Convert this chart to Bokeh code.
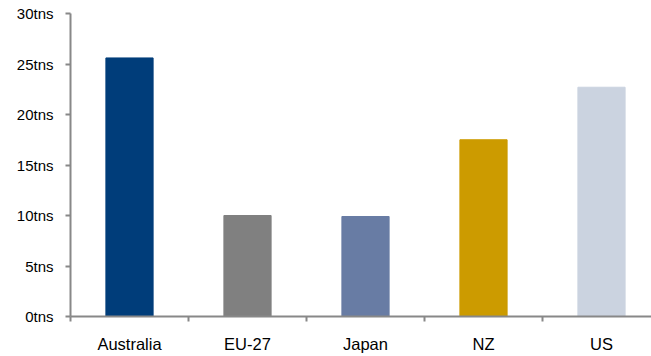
from bokeh.plotting import figure
from bokeh.models import FixedTicker, ColumnDataSource, Range1d
from bokeh.embed import file_html
from bokeh.resources import INLINE

categories = ["Australia", "EU-27", "Japan", "NZ", "US"]
values = [25.6, 10.0, 9.9, 17.5, 22.7]
colors = ["#003D7A", "#808080", "#687CA4", "#CC9B00", "#CBD3E0"]
y_ticks = [0, 5, 10, 15, 20, 25, 30]
y_tick_labels = ["0tns", "5tns", "10tns", "15tns", "20tns", "25tns", "30tns"]

xpos = [i + 0.5 for i in range(len(categories))]
src = ColumnDataSource(dict(x=xpos, top=values, color=colors))

W, H = 651, 356
p = figure(width=W, height=H, output_backend="svg", toolbar_location=None,
           x_range=Range1d(0, (W - 70) / 118.0), y_range=Range1d(0, 30),
           min_border_left=70, min_border_right=0, min_border_top=13, min_border_bottom=40)
p.vbar(x="x", top="top", width=0.4, color="color", source=src)

p.outline_line_color = None
p.xgrid.visible = False
p.ygrid.visible = False

axis_color = "#888888"
p.yaxis.ticker = FixedTicker(ticks=y_ticks)
p.yaxis.major_label_overrides = {t: l for t, l in zip(y_ticks, y_tick_labels)}
p.yaxis.minor_tick_line_color = None
p.yaxis.major_tick_in = 0
p.yaxis.major_tick_out = 5
p.yaxis.major_label_standoff = 12
p.yaxis.major_tick_line_color = axis_color
p.yaxis.major_label_text_font_size = "15px"

p.xaxis.ticker = FixedTicker(ticks=xpos, minor_ticks=list(range(len(categories) + 1)))
p.xaxis.major_label_overrides = {x: c for x, c in zip(xpos, categories)}
p.xaxis.major_tick_line_color = None
p.xaxis.major_tick_in = 0
p.xaxis.major_tick_out = 5
p.xaxis.minor_tick_in = 0
p.xaxis.minor_tick_out = 5
p.xaxis.minor_tick_line_color = axis_color
p.xaxis.major_label_standoff = 13
p.xaxis.major_label_text_font_size = "16.5px"

for ax in (p.xaxis, p.yaxis):
    ax.axis_line_color = axis_color
    ax.axis_line_width = 2
    ax.major_tick_line_width = 2
    ax.minor_tick_line_width = 2
    ax.major_label_text_font = "Liberation Sans"
    ax.major_label_text_color = "#000000"

open("out.html", "w").write(file_html(p, INLINE))
